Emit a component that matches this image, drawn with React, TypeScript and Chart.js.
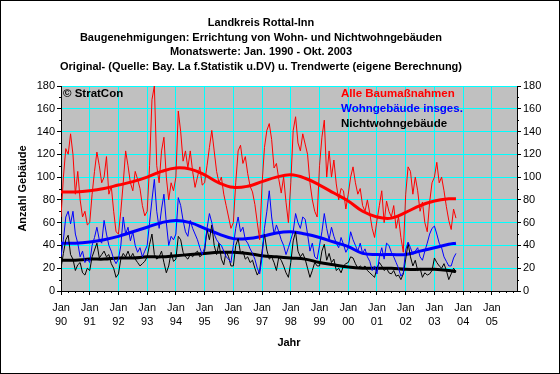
import React, { useEffect, useRef } from 'react';
import { Chart, registerables } from 'chart.js';

Chart.register(...registerables);

const TITLE_LINES = [
  'Landkreis Rottal-Inn',
  'Baugenehmigungen: Errichtung von Wohn- und Nichtwohngebäuden',
  'Monatswerte: Jan. 1990 - Okt. 2003',
  'Original- (Quelle: Bay. La f.Statistik u.DV) u. Trendwerte (eigene Berechnung)',
];
const SERIES_NAMES = ['Alle Baumaßnahmen', 'Wohngebäude insges.', 'Nichtwohngebäude'];
const SERIES_COLORS = ['#FF0000', '#0000FF', '#000000'];
const COPYRIGHT = '© StratCon';
const X_TITLE = 'Jahr';
const Y_TITLE = 'Anzahl Gebäude';

// x axis: month index since Jan 1990; one tick per January
const YEAR_LABELS = ['90', '91', '92', '93', '94', '95', '96', '97', '98', '99', '00', '01', '02', '03', '04', '05'];
const Y_TICKS = [0, 20, 40, 60, 80, 100, 120, 140, 160, 180];

// monthly values, Jan 1990 - Oct 2003
const alleBaumassnahmen = [
  65, 100, 125, 120, 138, 120, 85, 105, 80, 65, 70, 58, // 1990
  60, 85, 105, 122, 110, 95, 100, 118, 85, 92, 70, 52, // 1991
  50, 70, 95, 123, 110, 95, 88, 105, 98, 90, 75, 66, // 1992
  70, 110, 168, 180, 110, 95, 123, 135, 100, 80, 95, 88, // 1993
  100, 158, 140, 114, 123, 108, 123, 105, 91, 100, 109, 93, // 1994
  95, 110, 126, 141, 123, 105, 95, 100, 85, 75, 65, 55, // 1995
  60, 95, 123, 128, 112, 118, 103, 92, 87, 76, 60, 45, // 1996
  94, 126, 141, 147, 133, 108, 112, 98, 86, 100, 78, 60, // 1997
  95, 141, 153, 130, 123, 138, 129, 120, 95, 80, 70, 65, // 1998
  110, 135, 150, 100, 123, 100, 115, 94, 80, 90, 88, 72, // 1999
  85, 100, 109, 95, 85, 90, 75, 70, 80, 68, 55, 47, // 2000
  62, 75, 88, 60, 79, 70, 65, 75, 55, 65, 47, 34, // 2001
  85, 109, 105, 85, 100, 88, 70, 78, 60, 52, 78, 95, // 2002
  100, 113, 95, 100, 88, 74, 62, 54, 72, 64, // 2003
];
const wohngebaeude = [
  30, 45, 65, 70, 59, 70, 50, 42, 30, 35, 25, 28, // 1990
  25, 40, 47, 56, 45, 42, 62, 50, 40, 35, 28, 24, // 1991
  28, 40, 65, 50, 56, 44, 52, 40, 34, 38, 30, 35, // 1992
  40, 60, 80, 98, 70, 55, 72, 85, 60, 40, 48, 45, // 1993
  50, 82, 75, 62, 52, 48, 62, 55, 50, 45, 38, 32, // 1994
  38, 55, 68, 60, 50, 45, 42, 40, 35, 30, 28, 25, // 1995
  40, 55, 65, 52, 56, 45, 42, 37, 33, 28, 20, 15, // 1996
  30, 55, 70, 88, 65, 50, 58, 52, 45, 40, 32, 38, // 1997
  45, 52, 68, 60, 55, 65, 63, 50, 35, 42, 30, 28, // 1998
  40, 52, 68, 55, 45, 56, 48, 42, 38, 47, 41, 34, // 1999
  38, 52, 45, 40, 35, 42, 33, 37, 30, 26, 18, 22, // 2000
  15, 30, 38, 28, 42, 40, 34, 30, 25, 20, 13, 16, // 2001
  36, 43, 38, 32, 35, 38, 30, 27, 35, 42, 50, 55, // 2002
  57, 50, 42, 38, 30, 26, 22, 22, 29, 33, // 2003
];
const nichtwohngebaeude = [
  20, 33, 45, 49, 32, 28, 18, 23, 25, 16, 14, 20, // 1990
  18, 30, 36, 42, 29, 32, 35, 30, 32, 24, 20, 12, // 1991
  15, 28, 33, 30, 35, 29, 33, 28, 25, 22, 24, 26, // 1992
  30, 41, 50, 32, 28, 30, 35, 25, 16, 22, 34, 26, // 1993
  28, 48, 45, 34, 30, 28, 32, 30, 33, 35, 30, 32, // 1994
  35, 54, 45, 58, 40, 32, 42, 28, 23, 35, 30, 22, // 1995
  22, 40, 46, 33, 35, 28, 30, 25, 27, 20, 14, 18, // 1996
  35, 50, 36, 28, 30, 25, 18, 30, 27, 22, 16, 12, // 1997
  25, 44, 52, 35, 30, 33, 28, 20, 12, 18, 25, 22, // 1998
  22, 35, 41, 27, 33, 25, 28, 18, 20, 16, 22, 24, // 1999
  25, 30, 29, 24, 20, 22, 20, 22, 18, 16, 14, 12, // 2000
  20, 25, 22, 18, 20, 16, 15, 18, 13, 14, 10, 15, // 2001
  28, 42, 30, 22, 27, 18, 20, 12, 16, 14, 15, 18, // 2002
  29, 25, 22, 20, 24, 18, 10, 15, 20, 17, // 2003
];

// trend values read at half-year steps (month index)
const trendMonths = [0, 6, 12, 18, 24, 30, 36, 42, 48, 54, 60, 66, 72, 78, 84, 90, 96, 102, 108, 114, 120, 126, 132, 138, 144, 150, 156, 162, 165];
const trendAlle = [87, 87, 88, 90, 93, 96, 100, 105, 108, 107, 102, 95, 91, 92, 96, 100, 102, 99, 93, 86, 79, 70, 65, 64, 69, 75, 79, 81, 81];
const trendWohn = [42, 42, 43, 45, 48, 52, 56, 60, 62, 60, 55, 50, 46, 46, 48, 51, 52, 50, 47, 43, 39, 33, 32, 32, 32, 35, 38, 41, 42];
const trendNichtwohn = [27, 27, 28, 28, 29, 29, 30, 30, 31, 32, 33, 34, 34, 33, 31, 30, 29, 28, 25, 23, 21, 20, 20, 20, 19, 19, 19, 18, 17];

const FONT = '"Liberation Sans", Arial, sans-serif';

const toPoints = (vals: number[]) => vals.map((v, i) => ({ x: i, y: v }));
const toTrend = (vals: number[]) => vals.map((v, i) => ({ x: trendMonths[i], y: v }));

const decorPlugin = {
  id: 'decor',
  beforeDraw(chart: any) {
    const { ctx, chartArea: a } = chart;
    ctx.save();
    ctx.fillStyle = '#FFFFFF';
    ctx.fillRect(0, 0, chart.width, chart.height);
    ctx.fillStyle = '#C0C0C0';
    ctx.fillRect(a.left, a.top, a.right - a.left, a.bottom - a.top);
    ctx.restore();
  },
  afterDraw(chart: any) {
    const { ctx, chartArea: a } = chart;
    const xs = chart.scales.x;
    const ys = chart.scales.y;
    ctx.save();
    // minor ticks
    ctx.strokeStyle = '#000';
    ctx.lineWidth = 1;
    ctx.beginPath();
    for (let m = 3; m < xs.max; m += 3) {
      if (m % 12 === 0) continue;
      const x = Math.round(xs.getPixelForValue(m)) + 0.5;
      ctx.moveTo(x, a.bottom);
      ctx.lineTo(x, a.bottom + 2);
    }
    for (let v = 10; v < 180; v += 20) {
      const y = Math.round(ys.getPixelForValue(v)) + 0.5;
      ctx.moveTo(a.left - 2, y);
      ctx.lineTo(a.left, y);
      ctx.moveTo(a.right, y);
      ctx.lineTo(a.right + 2, y);
    }
    ctx.stroke();

    // title
    ctx.fillStyle = '#000';
    ctx.textAlign = 'center';
    ctx.textBaseline = 'middle';
    ctx.font = `bold 11px ${FONT}`;
    TITLE_LINES.forEach((t, i) => ctx.fillText(t, 261, 23 + i * 14.6));

    // copyright
    ctx.textAlign = 'left';
    ctx.font = `bold 11.5px ${FONT}`;
    ctx.fillText(COPYRIGHT, 63, 94);

    // legend
    SERIES_NAMES.forEach((t, i) => {
      ctx.fillStyle = SERIES_COLORS[i];
      ctx.fillText(t, 341, 94 + i * 14.7);
    });

    // axis titles
    ctx.fillStyle = '#000';
    ctx.font = `bold 11px ${FONT}`;
    ctx.textAlign = 'center';
    ctx.fillText(X_TITLE, (a.left + a.right) / 2, 343);
    ctx.translate(23, (a.top + a.bottom) / 2);
    ctx.rotate(-Math.PI / 2);
    ctx.fillText(Y_TITLE, 0, 0);
    ctx.restore();

    // outer frame
    ctx.save();
    ctx.strokeStyle = '#000';
    ctx.lineWidth = 1;
    ctx.strokeRect(0.5, 0.5, chart.width - 1, chart.height - 1);
    ctx.restore();
  },
};

export default function App() {
  const canvasRef = useRef<HTMLCanvasElement | null>(null);

  useEffect(() => {
    const canvas = canvasRef.current;
    if (!canvas) return;
    const tickFont = { family: FONT, size: 11 };
    const xTickFont = { family: FONT, size: 11, lineHeight: 1.36 };
    const yearTicks = YEAR_LABELS.map((_, i) => i * 12);
    const chart = new Chart(canvas, {
      type: 'line',
      data: {
        datasets: [
          { label: SERIES_NAMES[0], data: toPoints(alleBaumassnahmen), borderColor: SERIES_COLORS[0], borderWidth: 1, pointRadius: 0, tension: 0 },
          { label: SERIES_NAMES[1], data: toPoints(wohngebaeude), borderColor: SERIES_COLORS[1], borderWidth: 1, pointRadius: 0, tension: 0 },
          { label: SERIES_NAMES[2], data: toPoints(nichtwohngebaeude), borderColor: SERIES_COLORS[2], borderWidth: 1, pointRadius: 0, tension: 0 },
          { label: 'Trend ' + SERIES_NAMES[0], data: toTrend(trendAlle), borderColor: SERIES_COLORS[0], borderWidth: 3, pointRadius: 0, tension: 0.4 },
          { label: 'Trend ' + SERIES_NAMES[1], data: toTrend(trendWohn), borderColor: SERIES_COLORS[1], borderWidth: 3, pointRadius: 0, tension: 0.4 },
          { label: 'Trend ' + SERIES_NAMES[2], data: toTrend(trendNichtwohn), borderColor: SERIES_COLORS[2], borderWidth: 3, pointRadius: 0, tension: 0.4 },
        ],
      },
      options: {
        responsive: false,
        animation: false,
        devicePixelRatio: 1,
        parsing: false as any,
        layout: { padding: { top: 86, left: 0, right: 0, bottom: 0 } },
        plugins: {
          legend: { display: false },
          title: { display: false },
          tooltip: { enabled: false },
        },
        scales: {
          x: {
            type: 'linear',
            position: 'bottom',
            min: 0,
            max: 190.5,
            afterBuildTicks: (s: any) => {
              s.ticks = yearTicks.map((v) => ({ value: v }));
            },
            afterFit: (s: any) => {
              s.height = 83;
            },
            grid: { color: '#00FFFF', tickColor: '#000000', tickLength: 4, lineWidth: 1 },
            border: { color: '#000000', width: 1 },
            ticks: {
              font: xTickFont,
              color: '#000',
              padding: 5,
              maxRotation: 0,
              autoSkip: false,
              callback: (v: any) => ['Jan', YEAR_LABELS[Math.round(Number(v) / 12)]],
            },
          },
          y: {
            type: 'linear',
            position: 'left',
            min: 0,
            max: 180,
            afterBuildTicks: (s: any) => {
              s.ticks = Y_TICKS.map((v) => ({ value: v }));
            },
            afterFit: (s: any) => {
              s.width = 61;
            },
            grid: { color: '#00FFFF', tickColor: '#000000', tickLength: 4, lineWidth: 1 },
            border: { color: '#000000', width: 1 },
            ticks: { font: tickFont, color: '#000', padding: 2 },
          },
          y2: {
            type: 'linear',
            position: 'right',
            min: 0,
            max: 180,
            afterBuildTicks: (s: any) => {
              s.ticks = Y_TICKS.map((v) => ({ value: v }));
            },
            afterFit: (s: any) => {
              s.width = 43;
            },
            grid: { drawOnChartArea: false, tickColor: '#000000', tickLength: 4 },
            border: { color: '#000000', width: 1 },
            ticks: { font: tickFont, color: '#000', padding: 2 },
          },
        },
      } as any,
      plugins: [decorPlugin],
    });
    return () => chart.destroy();
  }, []);

  return (
    <div style={{ position: 'absolute', left: 0, top: 0, width: 560, height: 374 }}>
      <canvas ref={canvasRef} width={560} height={374} style={{ display: 'block', width: 560, height: 374 }} />
    </div>
  );
}
